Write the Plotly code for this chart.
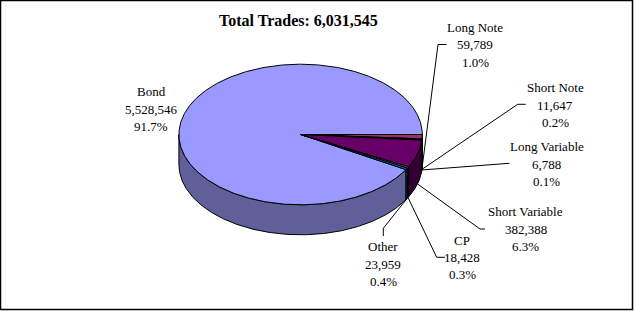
import numpy as np
import plotly.graph_objects as go

# ---------------- data ----------------
categories = ["Bond", "Long Note", "Short Note", "Long Variable",
              "Short Variable", "CP", "Other"]
trades = [5528546, 59789, 11647, 6788, 382388, 18428, 23959]
title_text = "Total Trades: 6,031,545"

# ---------------- style ----------------
top_colors = ["#9999FF", "#993366", "#FFFFCC", "#CCFFFF", "#660066", "#FF8080", "#0066CC"]
side_colors = ["#5F5F99", "#4D1A33", "#808066", "#668080", "#330033", "#804040", "#003366"]
FONT = "Liberation Serif, Times New Roman, serif"

W, H = 634, 311
CX, CY, RX, RY, DEPTH = 300.6, 134.5, 121.7, 70.3, 30.0

# label placement (first-line centre) and leader elbows, in pixel space
label_pos = {
    "Bond": (151, 91.7),
    "Long Note": (475, 27.3),
    "Short Note": (555, 87.7),
    "Long Variable": (546.7, 146.7),
    "Short Variable": (525.8, 211.7),
    "CP": (462.3, 240.0),
    "Other": (383.3, 246.7),
}
leader_pts = {
    "Long Note": [(446.7, 44.5), (438, 44.5)],
    "Short Note": [(525.7, 104.3), (517.7, 104.3)],
    "Long Variable": [(509.3, 163.3)],
    "Short Variable": [(485, 229), (480, 229)],
    "CP": [(445, 257.3), (436.7, 257.3)],
    "Other": [(383.3, 236), (383.3, 228.3)],
}
LINE_STEP = 17.4

total = sum(trades)
fracs = [v / total for v in trades]
# first slice (Bond) ends exactly at 3 o'clock; small slices follow clockwise
start = -fracs[0] * 360.0

def pt(a_deg, dy=0.0):
    a = np.radians(a_deg)
    return CX + RX * np.cos(a), CY + RY * np.sin(a) + dy

fig = go.Figure()

# slice angle spans
spans = []
a = start
for f in fracs:
    spans.append((a, a + f * 360.0))
    a += f * 360.0

# side walls (front half only: angles 0..180)
for i, (a0, a1) in enumerate(spans):
    a0m = a0 % 360.0
    a1m = a0m + (a1 - a0)
    for off in (0.0, 360.0):
        lo = max(a0m, 0.0 + off)
        hi = min(a1m, 180.0 + off)
        if hi <= lo:
            continue
        ang = np.linspace(lo, hi, max(2, int((hi - lo) * 2) + 2))
        xs_top, ys_top = pt(ang)
        xs_bot, ys_bot = pt(ang[::-1], DEPTH)
        xs = np.concatenate([xs_top, xs_bot, xs_top[:1]])
        ys = np.concatenate([ys_top, ys_bot, ys_top[:1]])
        fig.add_trace(go.Scatter(x=xs, y=ys, mode="lines", fill="toself",
                                 fillcolor=side_colors[i],
                                 line=dict(color="black", width=1),
                                 hoverinfo="skip", showlegend=False))

# top faces
for i, (a0, a1) in enumerate(spans):
    ang = np.linspace(a0, a1, max(2, int((a1 - a0) * 2) + 2))
    ax_, ay_ = pt(ang)
    xs = np.concatenate([[CX], ax_, [CX]])
    ys = np.concatenate([[CY], ay_, [CY]])
    fig.add_trace(go.Scatter(x=xs, y=ys, mode="lines", fill="toself",
                             fillcolor=top_colors[i],
                             line=dict(color="black", width=1),
                             hoverinfo="skip", showlegend=False))

# leader lines to bottom edge of wall at slice mid-angle
for i, name in enumerate(categories):
    if name not in leader_pts:
        continue
    mid = (spans[i][0] + spans[i][1]) / 2.0
    ex, ey = pt(mid, DEPTH)
    pts = leader_pts[name] + [(ex, ey)]
    fig.add_trace(go.Scatter(x=[p[0] for p in pts], y=[p[1] for p in pts],
                             mode="lines", line=dict(color="black", width=1),
                             hoverinfo="skip", showlegend=False))

annotations = []
for i, name in enumerate(categories):
    lx, ly = label_pos[name]
    lines = [name, f"{trades[i]:,}", f"{trades[i] / total * 100:.1f}%"]
    for k, t in enumerate(lines):
        annotations.append(dict(x=lx, y=ly + k * LINE_STEP, xref="x", yref="y",
                                text=t, showarrow=False,
                                font=dict(family=FONT, size=13, color="black"),
                                xanchor="center", yanchor="middle"))
annotations.append(dict(x=298, y=20, xref="x", yref="y",
                        text="<b>" + title_text + "</b>", showarrow=False,
                        font=dict(family=FONT, size=16, color="black"),
                        xanchor="center", yanchor="middle"))

fig.update_layout(
    width=W, height=H,
    margin=dict(l=0, r=0, t=0, b=0),
    paper_bgcolor="white", plot_bgcolor="white",
    xaxis=dict(range=[0, W], visible=False, fixedrange=True),
    yaxis=dict(range=[H, 0], visible=False, fixedrange=True),
    annotations=annotations,
    shapes=[dict(type="rect", xref="x", yref="y", x0=0.5, y0=0.5, x1=632.5, y1=309.5,
                 line=dict(color="black", width=1.5))],
    showlegend=False,
)

fig.write_html("out.html")
